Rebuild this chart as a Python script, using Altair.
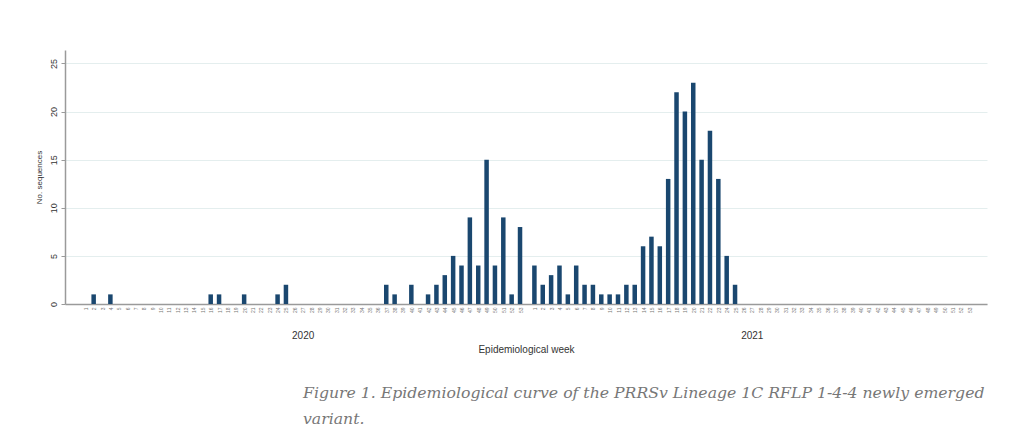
import altair as alt
import pandas as pd

weeks = list(range(1, 54))
cases_2020 = [0, 1, 0, 1, 0, 0, 0, 0, 0, 0,
              0, 0, 0, 0, 0, 1, 1, 0, 0, 1,
              0, 0, 0, 1, 2, 0, 0, 0, 0, 0,
              0, 0, 0, 0, 0, 0, 2, 1, 0, 2,
              0, 1, 2, 3, 5, 4, 9, 4, 15, 4,
              9, 1, 8]
cases_2021 = [4, 2, 3, 4, 1, 4, 2, 2, 1, 1,
              1, 2, 2, 6, 7, 6, 13, 22, 20, 23,
              15, 18, 13, 5, 2, 0, 0, 0, 0, 0,
              0, 0, 0, 0, 0, 0, 0, 0, 0, 0,
              0, 0, 0, 0, 0, 0, 0, 0, 0, 0,
              0, 0, 0]
years = ["2020", "2021"]
caption = ["Figure 1. Epidemiological curve of the PRRSv Lineage 1C RFLP 1-4-4 newly emerged",
           "variant."]

YEAR_GAP = 0.72  # extra space between the two year groups, in week units
offsets = {"2020": 0.0, "2021": len(weeks) + YEAR_GAP}

rows = []
for yr, vals in zip(years, [cases_2020, cases_2021]):
    for w, v in zip(weeks, vals):
        rows.append({"year": yr, "week": w, "n": v, "pos": offsets[yr] + w})
df = pd.DataFrame(rows)

year_df = pd.DataFrame({"year": years,
                        "center": [offsets[y] + (len(weeks) + 1) / 2 for y in years]})

x_scale = alt.Scale(domain=[-0.83, 108.26], nice=False, zero=False)
week_ticks = list(df["pos"])

bars = alt.Chart(df).mark_bar(color="#1a476f", size=4.5).encode(
    x=alt.X("pos:Q", scale=x_scale,
            axis=alt.Axis(values=week_ticks, title=None, grid=False, ticks=False,
                          orient="bottom",
                          domainColor="#9a9a9a", domainWidth=1.5,
                          labelAngle=-90, labelAlign="right", labelBaseline="middle",
                          labelFontSize=5, labelColor="#777777", labelPadding=3,
                          labelOverlap=False, labelFlush=False,
                          labelExpr="datum.value <= 53.5 ? '' + round(datum.value) : '' + round(datum.value - 53.72)")),
    y=alt.Y("n:Q", scale=alt.Scale(domain=[0, 26.4], nice=False),
            axis=alt.Axis(values=[0, 5, 10, 15, 20, 25], title="No. sequences",
                          grid=True, gridColor="#e4eeee", gridWidth=1,
                          domainColor="#9a9a9a", domainWidth=1.5,
                          tickColor="#9a9a9a", tickSize=4,
                          labelAngle=-90, labelAlign="center", labelBaseline="bottom",
                          labelFontSize=9, labelColor="#333333", labelPadding=3,
                          titleFontSize=8, titleFontWeight="normal", titleColor="#333333",
                          titlePadding=6)),
)

year_layer = alt.Chart(year_df).mark_point(opacity=0).encode(
    x=alt.X("center:Q", scale=x_scale,
            axis=alt.Axis(values=list(year_df["center"]), title="Epidemiological week",
                          orient="bottom",
                          domain=False, ticks=False, grid=False, offset=24,
                          labelFontSize=10, labelColor="#333333",
                          labelExpr="datum.value < 54 ? '2020' : '2021'",
                          titleFontSize=10, titleFontWeight="normal", titleColor="#333333",
                          titlePadding=4)),
)

chart = alt.layer(bars, year_layer).resolve_axis(x="independent").properties(
    width=922, height=254,
    autosize=alt.AutoSizeParams(type="none"),
    padding={"left": 57, "top": 42, "right": 16, "bottom": 123},
    title=alt.TitleParams(text=caption, orient="bottom", anchor="start", dx=268,
                          offset=32, font="DejaVu Serif", fontStyle="italic",
                          fontWeight="normal", fontSize=15.7, color="#777777",
                          lineHeight=26),
).configure_view(stroke=None).configure_axis(labelFont="Liberation Sans", titleFont="Liberation Sans")

chart.save("out.html", embed_options={"renderer": "svg", "actions": False})
